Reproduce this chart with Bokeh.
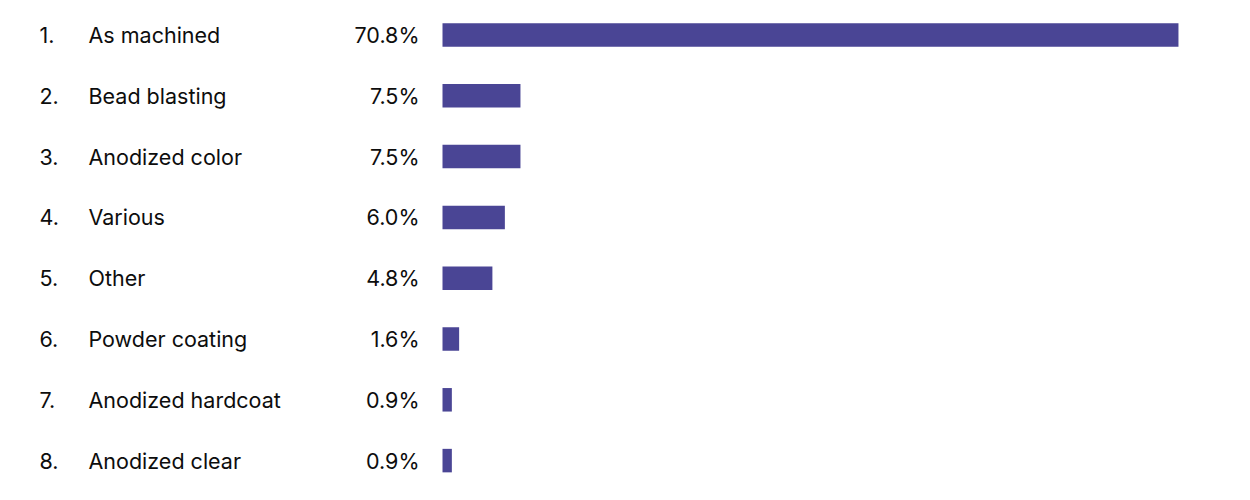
from bokeh.plotting import figure
from bokeh.models import ColumnDataSource, Range1d
from bokeh.core.properties import value
from bokeh.embed import file_html
from bokeh.resources import INLINE

ranks = ["1.", "2.", "3.", "4.", "5.", "6.", "7.", "8."]
labels = ["As machined", "Bead blasting", "Anodized color", "Various", "Other",
          "Powder coating", "Anodized hardcoat", "Anodized clear"]
values = [70.8, 7.5, 7.5, 6.0, 4.8, 1.6, 0.9, 0.9]
pct_labels = ["70.8%", "7.5%", "7.5%", "6.0%", "4.8%", "1.6%", "0.9%", "0.9%"]

W, H = 1240, 492
bar_start_px = 442.0
px_per_unit = 10.395
row_px = 60.8
first_row_px = 34.5

pos = list(range(1, len(labels) + 1))
src = ColumnDataSource(dict(y=pos, v=values, rank=ranks, label=labels,
                            pct=pct_labels, zero=[0] * len(pos)))

x0 = -bar_start_px / px_per_unit
x1 = (W - bar_start_px) / px_per_unit
y_top = 1 - first_row_px / row_px
y_bot = y_top + H / row_px

p = figure(width=W, height=H, output_backend="svg", toolbar_location=None,
           x_range=Range1d(x0, x1), y_range=Range1d(y_bot, y_top),
           min_border=0, min_border_left=0, min_border_right=0,
           min_border_top=0, min_border_bottom=0)
p.axis.visible = False
p.grid.visible = False
p.outline_line_color = None
p.background_fill_color = "white"
p.border_fill_color = "white"

p.hbar(y="y", left="zero", right="v", height=23.5 / row_px, source=src,
       fill_color="#4a4595", line_color=None)

font = value("Inter")
common = dict(text_font=font, text_font_size="21.5px", text_color="#0d0d0d",
              text_baseline="middle", y_offset=0)
p.text(x="zero", y="y", text="rank", x_offset=-(442 - 39), text_align="left",
       source=src, **common)
p.text(x="zero", y="y", text="label", x_offset=-(442 - 88), text_align="left",
       source=src, **common)
p.text(x="zero", y="y", text="pct", x_offset=-(442 - 419), text_align="right",
       source=src, **common)

open("out.html", "w").write(file_html(p, INLINE))
